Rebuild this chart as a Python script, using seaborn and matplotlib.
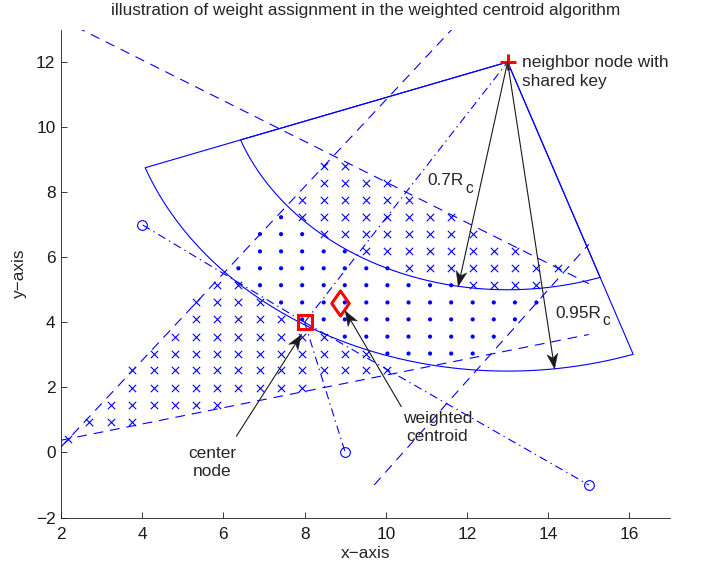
import numpy as np
import pandas as pd
import matplotlib
matplotlib.use("Agg")
import matplotlib.pyplot as plt
from matplotlib.patches import Polygon
from matplotlib.path import Path
import seaborn as sns

# ---- nodes -------------------------------------------------------------
center_node = (8.0, 4.0)            # node being localised
anchor_x = [4.0, 9.0, 15.0]         # ordinary neighbours
anchor_y = [7.0, 0.0, -1.0]
keyed_node = (13.0, 12.0)           # neighbour sharing a key
centroid = (8.87, 4.59)             # resulting weighted centroid

# ---- ring of the keyed neighbour --------------------------------------
Rc = 10.0
inner_factor = 0.7
outer_factor = 0.95
sector_deg = [200.0, 289.0]
arrow_deg = [260.0, 277.0]          # direction of the 0.7Rc / 0.95Rc arrows

# ---- perpendicular bisectors (segment end points) ---------------------
bisector_x = [[2.0, 15.0], [2.0, 11.625], [2.0, 15.0], [9.714, 15.0]]
bisector_y = [[13.3125, 5.1875], [0.1667, 13.0], [0.375, 3.625], [-1.0, 6.4]]

# ---- candidate grid inside the cell ------------------------------------
grid_cols = [2.18, 2.70, 3.23, 3.75, 4.28, 4.80, 5.32, 5.85, 6.37, 6.90,
             7.42, 7.94, 8.47, 8.99, 9.52, 10.04, 10.56, 11.09, 11.61,
             12.14, 12.66, 13.18, 13.71, 14.23]
grid_rows = [0.42, 0.94, 1.47, 1.99, 2.52, 3.04, 3.56, 4.09, 4.61, 5.14,
             5.66, 6.18, 6.71, 7.23, 7.76, 8.28, 8.80]
# (row, first column, last column)
cross_runs = [(0, 0, 0), (1, 1, 3), (2, 2, 7), (3, 3, 11), (4, 3, 15),
              (5, 4, 14), (6, 5, 12), (7, 6, 10), (8, 6, 9), (9, 7, 8),
              (9, 19, 22), (10, 16, 23), (11, 14, 21), (12, 12, 19),
              (13, 11, 18), (14, 11, 16), (15, 12, 15), (16, 12, 13)]
dot_runs = [(5, 15, 19), (6, 13, 20), (7, 11, 21), (8, 10, 22), (9, 9, 18),
            (10, 8, 15), (11, 9, 13), (12, 9, 11), (13, 10, 10)]

title_text = "illustration of weight assignment in the weighted centroid algorithm"


def runs_to_frame(runs, kind):
    rows = []
    for r, c0, c1 in runs:
        for c in range(c0, c1 + 1):
            rows.append({"x": grid_cols[c], "y": grid_rows[r], "kind": kind})
    return pd.DataFrame(rows)


grid = pd.concat([runs_to_frame(cross_runs, "outside ring"),
                  runs_to_frame(dot_runs, "inside ring")], ignore_index=True)

sns.set_theme(style="ticks")
plt.rcParams["font.family"] = ["Liberation Sans", "DejaVu Sans"]
plt.rcParams["lines.scale_dashes"] = False

BLUE = (0, 0, 1)
RED = (1, 0, 0)
FS = 12.4

fig = plt.figure(figsize=(7.01, 5.70), dpi=100)
W, H = 701, 570
ax = fig.add_axes([61 / W, 1 - 517.5 / H, (670 - 61) / W, (517.5 - 29.5) / H])
ax.set_xlim(2, 17)
ax.set_ylim(-2, 13)

# grid points: crosses outside the ring, dots inside it
sns.scatterplot(data=grid[grid.kind == "outside ring"], x="x", y="y", marker="x",
                s=28, color=BLUE, linewidth=0.8, ax=ax, legend=False, zorder=3)
sns.scatterplot(data=grid[grid.kind == "inside ring"], x="x", y="y", marker="o",
                s=9, color=BLUE, edgecolor="none", ax=ax, legend=False, zorder=3)

# sectors of radius 0.7Rc and 0.95Rc around the keyed neighbour
th = np.radians(np.linspace(sector_deg[0], sector_deg[1], 200))
for f in (outer_factor, inner_factor):
    r = f * Rc
    xs = np.concatenate([[keyed_node[0]], keyed_node[0] + r * np.cos(th), [keyed_node[0]]])
    ys = np.concatenate([[keyed_node[1]], keyed_node[1] + r * np.sin(th), [keyed_node[1]]])
    ax.plot(xs, ys, color=BLUE, lw=0.8, zorder=2)

# bisectors
for bx, by in zip(bisector_x, bisector_y):
    ax.plot(bx, by, color=BLUE, lw=0.8, linestyle=(0, (7, 5)), zorder=2)

# links from the center node to its neighbours
for nx, ny in list(zip(anchor_x, anchor_y)) + [keyed_node]:
    ax.plot([center_node[0], nx], [center_node[1], ny], color=BLUE, lw=0.8,
            linestyle=(0, (6, 3, 1, 3)), zorder=2)

# node markers
ax.plot(anchor_x, anchor_y, linestyle="none", marker="o", ms=7, mfc="none",
        mec=BLUE, mew=0.8, zorder=4)
ax.plot(*keyed_node, marker="+", ms=12, mec=RED, mew=2.2, zorder=5)
ax.plot(*center_node, marker="s", ms=10, mfc="none", mec=RED, mew=2.2, zorder=5)
diamond = Path([(0, 1), (0.7, 0), (0, -1), (-0.7, 0), (0, 1)],
               [Path.MOVETO, Path.LINETO, Path.LINETO, Path.LINETO, Path.CLOSEPOLY])
ax.plot(*centroid, marker=diamond, ms=18, mfc="none", mec=RED, mew=2.2, zorder=5)


def arrow(x0, y0, x1, y1, head_len=15.0, head_w=11.0, notch=0.72):
    """Black line with a swept-back filled head at (x1, y1)."""
    ax.plot([x0, x1], [y0, y1], color="k", lw=0.8, zorder=6)
    t = ax.transData
    p0 = np.asarray(t.transform((x0, y0)))
    p1 = np.asarray(t.transform((x1, y1)))
    u = (p1 - p0) / np.hypot(*(p1 - p0))
    n = np.array([-u[1], u[0]])
    pts = [p1, p1 - head_len * u + head_w / 2 * n, p1 - notch * head_len * u,
           p1 - head_len * u - head_w / 2 * n]
    ax.add_patch(Polygon(t.inverted().transform(pts), closed=True,
                         facecolor="k", edgecolor="k", lw=0.3, zorder=7))


for deg, f in zip(arrow_deg, (inner_factor, outer_factor)):
    a = np.radians(deg)
    arrow(keyed_node[0], keyed_node[1],
          keyed_node[0] + f * Rc * np.cos(a), keyed_node[1] + f * Rc * np.sin(a))

arrow(6.32, 0.5, 7.92, 3.62)
arrow(10.38, 1.41, 9.0, 4.35)


def radius_label(x, y, main, sub):
    """Text with a large, low subscript."""
    t = ax.text(x, y, main, fontsize=FS, ha="left", va="baseline")
    ax.annotate(sub, xy=(1, 0), xycoords=t, xytext=(1.0, -3.2),
                textcoords="offset points", fontsize=FS * 0.9,
                ha="left", va="baseline")


radius_label(11.03, 8.21, "0.7R", "c")
radius_label(14.18, 4.14, "0.95R", "c")
ax.text(13.36, 11.70, "neighbor node with\nshared key", fontsize=FS, ha="left",
        va="center", linespacing=1.3)
ax.text(5.72, -0.31, "center\nnode", fontsize=FS, ha="center", va="center",
        linespacing=1.25)
ax.text(11.27, 0.76, "weighted\ncentroid", fontsize=FS, ha="center", va="center",
        linespacing=1.25)

ax.set_xticks([2, 4, 6, 8, 10, 12, 14, 16])
ax.set_yticks([-2, 0, 2, 4, 6, 8, 10, 12])
ax.tick_params(direction="in", length=4.3, width=0.6, labelsize=FS, colors="k")
ax.tick_params(axis="x", pad=6.5)
ax.tick_params(axis="y", pad=4)
for side in ("top", "right"):
    ax.spines[side].set_visible(False)
for side in ("left", "bottom"):
    ax.spines[side].set_linewidth(0.6)
    ax.spines[side].set_color("k")
ax.set_xlabel("x\u2212axis", fontsize=FS, labelpad=3)
ax.set_ylabel("y\u2212axis", fontsize=FS, labelpad=6)
ax.set_title(title_text, fontsize=FS, pad=10.4)

fig.savefig("out.png", dpi=100)
